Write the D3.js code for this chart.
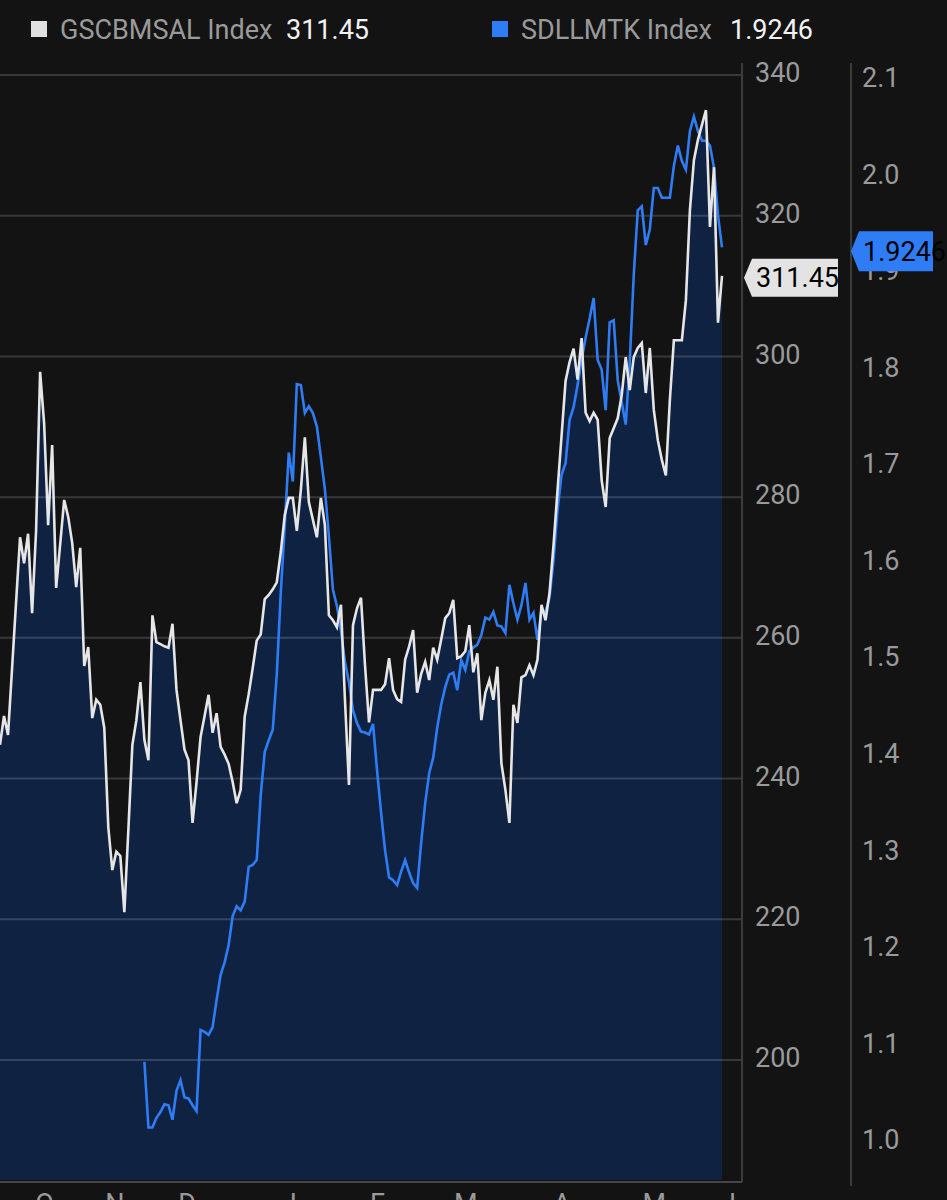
<!DOCTYPE html>
<html>
<head>
<meta charset="utf-8">
<script src="https://cdn.jsdelivr.net/npm/d3@7/dist/d3.min.js"></script>
<style>
  html, body { margin: 0; padding: 0; background: #131313; }
  svg { display: block; }
  text { font-family: Roboto, "Liberation Sans", sans-serif; }
</style>
</head>
<body>
<svg id="chart" width="947" height="1200"></svg>
<script>
// ---- DATA ----
const seriesNames = ["GSCBMSAL Index", "SDLLMTK Index"];
const lastLabels = ["311.45", "1.9246"];
const whiteVals = [244.8,248.9,246.2,255.6,265.0,274.3,270.6,274.8,263.5,275.3,
297.8,290.5,276.0,287.4,267.1,273.3,279.6,277.2,273.5,267.2,
272.8,256.0,258.7,248.6,251.2,250.5,247.2,233.1,227.0,229.6,
229.0,221.0,232.7,244.8,248.3,253.7,245.5,242.6,263.2,259.4,
259.1,258.8,258.6,262.0,252.6,248.3,244.1,242.6,233.7,239.5,
245.9,248.9,251.9,246.5,249.3,244.5,243.4,242.1,239.5,236.5,
238.4,248.8,252.0,255.7,259.6,260.5,265.5,266.1,266.9,267.9,
272.2,277.5,279.9,279.9,275.2,281.0,288.5,279.3,276.8,274.3,
279.9,276.0,263.2,262.5,261.5,264.7,251.2,239.1,261.8,264.2,
265.7,256.1,248.0,252.6,252.6,252.6,253.4,257.1,252.6,251.3,
250.9,256.9,258.8,261.1,252.2,254.9,256.6,254.0,258.6,256.9,
259.8,262.8,263.5,265.4,257.1,257.4,258.1,261.8,255.1,257.8,
248.3,252.2,254.0,251.2,255.9,242.2,238.4,233.7,250.5,247.9,
254.4,254.7,256.1,254.7,256.9,264.7,262.5,266.4,273.2,281.0,
288.7,296.5,299.2,301.1,296.7,302.6,292.0,290.8,292.0,291.0,
282.4,278.6,288.4,289.8,291.2,294.5,299.9,295.2,299.9,301.2,
301.9,294.8,301.2,292.4,288.1,285.3,283.1,293.8,302.3,302.3,
302.3,308.0,320.8,327.9,330.8,332.9,335.0,318.4,326.9,304.8,
311.45];
const blueStartDay = 36;
const blueVals = [1.081,1.013,1.013,1.023,1.029,1.037,1.036,1.021,1.051,1.062,
1.044,1.043,1.036,1.030,1.114,1.112,1.109,1.117,1.145,1.171,
1.184,1.202,1.232,1.242,1.238,1.247,1.283,1.285,1.290,1.357,
1.402,1.414,1.425,1.482,1.567,1.637,1.712,1.682,1.783,1.782,
1.753,1.760,1.753,1.739,1.707,1.674,1.625,1.570,1.553,1.528,
1.495,1.474,1.445,1.432,1.423,1.422,1.420,1.431,1.383,1.339,
1.300,1.272,1.269,1.264,1.278,1.290,1.277,1.266,1.261,1.308,
1.349,1.380,1.396,1.427,1.451,1.469,1.482,1.484,1.466,1.497,
1.487,1.506,1.510,1.513,1.523,1.541,1.539,1.547,1.533,1.532,
1.525,1.575,1.556,1.539,1.554,1.577,1.539,1.546,1.518,1.549,
1.547,1.562,1.601,1.653,1.689,1.701,1.746,1.759,1.782,1.808,
1.831,1.851,1.872,1.808,1.798,1.756,1.847,1.849,1.787,1.764,
1.741,1.806,1.896,1.963,1.967,1.927,1.943,1.986,1.986,1.976,
1.976,1.976,2.009,2.030,2.014,2.005,2.045,2.060,2.045,2.035,
2.035,2.030,2.007,1.958,1.9246];
const leftTicks = [200, 220, 240, 260, 280, 300, 320, 340];
const rightTicks = [1.0, 1.1, 1.2, 1.3, 1.4, 1.5, 1.6, 1.7, 1.8, 1.9, 2.0, 2.1];
const monthLabels = ["O", "N", "D", "J", "F", "M", "A", "M", "J"];
const monthDays = [11, 28.5, 46.5, 72, 94, 116, 140, 163, 181.5];

// ---- LAYOUT ----
const svg = d3.select("#chart");
const plotRight = 742, plotBottom = 1182, plotTop = 63;
const x = d3.scaleLinear().domain([0, whiteVals.length - 1]).range([0, 722]);
const yL = d3.scaleLinear().domain([200, 340]).range([1060, 75]);
const yR = d3.scaleLinear().domain([1.0, 2.1]).range([1140, 78]);

const C = {
  bg: "#131313", fill: "#0f2242", white: "#e6e6e6", blue: "#2f7df6",
  axis: "#3b3b3b", tick: "#9a9a9a"
};

svg.append("rect").attr("width", 947).attr("height", 1200).attr("fill", C.bg);

// area under white series
const area = d3.area().x((d, i) => x(i)).y0(plotBottom - 2).y1(d => yL(d));
svg.append("path").datum(whiteVals).attr("d", area).attr("fill", C.fill);

// gridlines
svg.append("g").selectAll("line").data(leftTicks).join("line")
  .attr("x1", 0).attr("x2", plotRight)
  .attr("y1", d => yL(d)).attr("y2", d => yL(d))
  .attr("stroke", "rgba(255,255,255,0.16)").attr("stroke-width", 2);

// axis frame lines
svg.append("line").attr("x1", plotRight).attr("x2", plotRight).attr("y1", plotTop).attr("y2", plotBottom)
  .attr("stroke", C.axis).attr("stroke-width", 2);
svg.append("line").attr("x1", 851).attr("x2", 851).attr("y1", plotTop).attr("y2", 1186)
  .attr("stroke", C.axis).attr("stroke-width", 2);
svg.append("line").attr("x1", 0).attr("x2", plotRight).attr("y1", plotBottom).attr("y2", plotBottom)
  .attr("stroke", "#454545").attr("stroke-width", 2);

// lines
const lineW = d3.line().x((d, i) => x(i)).y(d => yL(d));
const lineB = d3.line().x((d, i) => x(i + blueStartDay)).y(d => yR(d));
svg.append("path").datum(blueVals).attr("d", lineB).attr("fill", "none")
  .attr("stroke", C.blue).attr("stroke-width", 2.6).attr("stroke-linejoin", "miter");
svg.append("path").datum(whiteVals).attr("d", lineW).attr("fill", "none")
  .attr("stroke", C.white).attr("stroke-width", 2.6).attr("stroke-linejoin", "miter");

// axes
function styleAxis(g) {
  g.select(".domain").remove();
  g.selectAll("text").attr("fill", C.tick).attr("font-size", 27)
    .attr("font-family", "Roboto, 'Liberation Sans', sans-serif");
}
svg.append("g").attr("transform", "translate(755,-2)")
  .call(d3.axisRight(yL).tickValues(leftTicks).tickSize(0).tickPadding(0).tickFormat(d3.format("d")))
  .call(styleAxis);
svg.append("g").attr("transform", "translate(862,0)")
  .call(d3.axisRight(yR).tickValues(rightTicks).tickSize(0).tickPadding(0).tickFormat(d3.format(".1f")))
  .call(styleAxis);
svg.append("g").attr("transform", `translate(0,${plotBottom})`)
  .call(d3.axisBottom(x).tickValues(monthDays).tickSize(0).tickPadding(12)
    .tickFormat((d, i) => monthLabels[i]))
  .call(styleAxis);

// last-value tags
function tag(xTip, xL, xR, yc, h, fill, label) {
  const p = d3.path();
  p.moveTo(xTip, yc);
  p.lineTo(xL, yc - h / 2);
  p.lineTo(xR, yc - h / 2);
  p.lineTo(xR, yc + h / 2);
  p.lineTo(xL, yc + h / 2);
  p.closePath();
  svg.append("path").attr("d", p.toString()).attr("fill", fill);
  svg.append("text").attr("x", xL + 4).attr("y", yc).attr("dy", "0.35em")
    .attr("font-size", 27).attr("fill", "#000").text(label);
}
tag(744, 752, 838, yL(whiteVals[whiteVals.length - 1]) + 2, 38, "#e3e3e3", lastLabels[0]);
tag(851, 859, 933, yR(blueVals[blueVals.length - 1]) + 4, 40, C.blue, lastLabels[1]);

// legend
const legend = [
  { sx: 31, tx: 60, vx: 286, color: "#e0e0e0", name: seriesNames[0], val: lastLabels[0] },
  { sx: 492, tx: 521, vx: 730, color: C.blue, name: seriesNames[1], val: lastLabels[1] }
];
const lg = svg.append("g").selectAll("g").data(legend).join("g");
lg.append("rect").attr("x", d => d.sx).attr("y", 21).attr("width", 16).attr("height", 16)
  .attr("fill", d => d.color);
lg.append("text").attr("x", d => d.tx).attr("y", 39).attr("font-size", 27)
  .attr("fill", C.tick).text(d => d.name);
lg.append("text").attr("x", d => d.vx).attr("y", 39).attr("font-size", 27)
  .attr("fill", "#f2f2f2").text(d => d.val);
</script>
</body>
</html>
